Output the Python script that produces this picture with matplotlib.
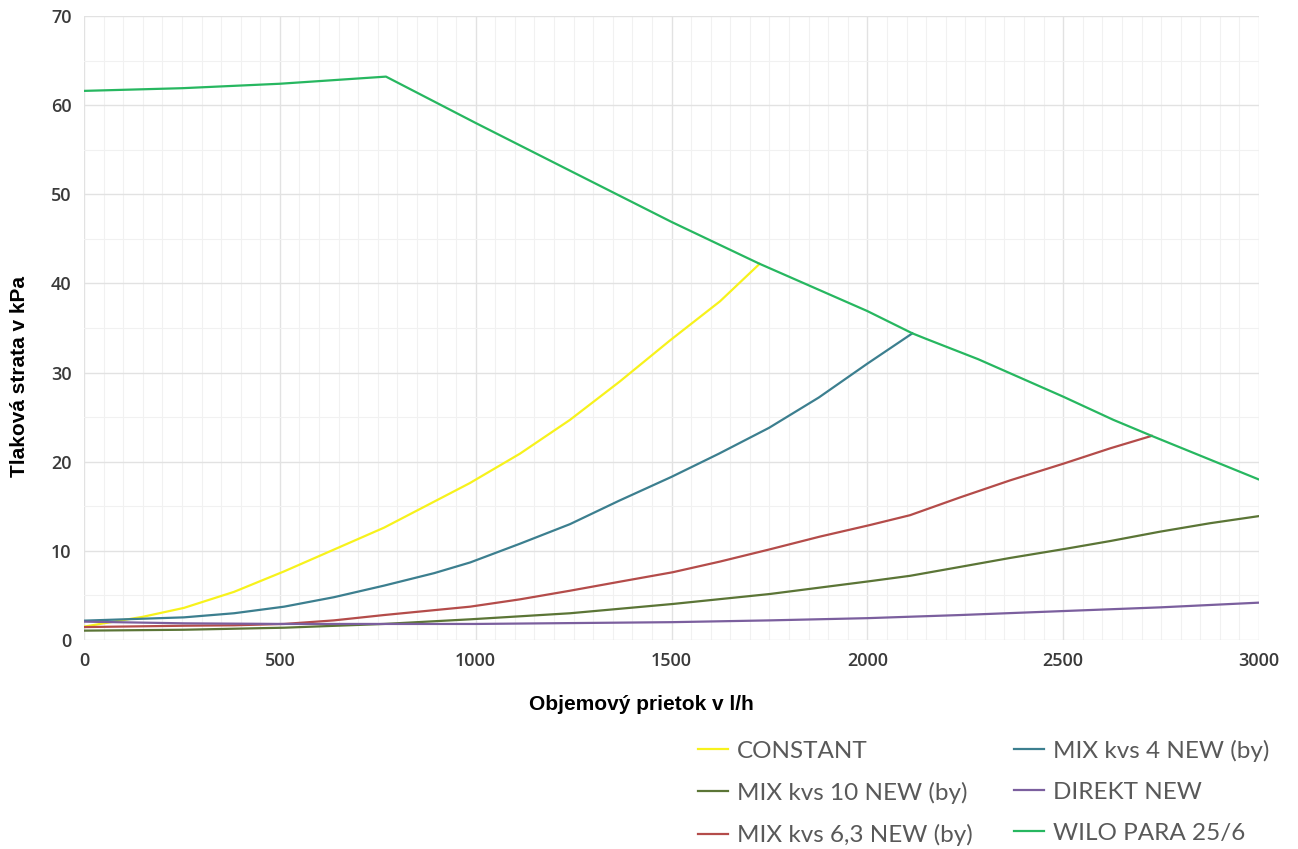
import numpy as np
import matplotlib.pyplot as plt
from matplotlib.ticker import MultipleLocator

# flow in l/h, pressure loss in kPa
const_x = [0, 150, 255, 383, 511, 766, 985, 1113, 1241, 1368, 1496, 1624, 1725]
const_y = [1.5, 2.6, 3.6, 5.4, 7.7, 12.6, 17.6, 20.9, 24.7, 29.0, 33.6, 38.0, 42.2]

mix4_x = [0, 255, 383, 511, 638, 766, 894, 986, 1113, 1241, 1365, 1500, 1621, 1749, 1876, 2000, 2115]
mix4_y = [2.17, 2.54, 3.0, 3.74, 4.8, 6.1, 7.5, 8.7, 10.8, 13.0, 15.6, 18.3, 20.9, 23.8, 27.2, 31.0, 34.4]

mix10_x = [0, 255, 511, 766, 986, 1241, 1503, 1751, 2007, 2109, 2237, 2364, 2502, 2620, 2747, 2875, 3000]
mix10_y = [1.05, 1.15, 1.38, 1.8, 2.32, 3.0, 4.04, 5.16, 6.6, 7.2, 8.2, 9.2, 10.2, 11.1, 12.15, 13.1, 13.9]

direkt_x = [0, 255, 511, 1000, 1250, 1500, 1750, 2000, 2237, 2502, 2747, 3000]
direkt_y = [2.06, 1.87, 1.8, 1.8, 1.9, 2.0, 2.2, 2.45, 2.8, 3.25, 3.66, 4.19]

mix63_x = [0, 255, 383, 511, 638, 766, 986, 1113, 1241, 1368, 1503, 1624, 1751, 1879, 2007,
           2109, 2237, 2364, 2502, 2620, 2726]
mix63_y = [1.45, 1.6, 1.65, 1.8, 2.2, 2.8, 3.74, 4.56, 5.53, 6.54, 7.6, 8.8, 10.17, 11.6, 12.9,
           14.0, 16.0, 17.9, 19.8, 21.5, 22.9]

wilo_x = [0, 250, 500, 771, 1000, 1243, 1500, 1725, 2000, 2115, 2149, 2283, 2500, 2628, 2726, 3000]
wilo_y = [61.6, 61.9, 62.4, 63.2, 58.0, 52.6, 46.9, 42.2, 36.9, 34.4, 33.8, 31.5, 27.3, 24.7, 22.9, 18.0]

series = [
    ("CONSTANT", const_x, const_y, "#f7f21c"),
    ("MIX kvs 10 NEW (by)", mix10_x, mix10_y, "#5b7536"),
    ("MIX kvs 6,3 NEW (by)", mix63_x, mix63_y, "#b44c4a"),
    ("MIX kvs 4 NEW (by)", mix4_x, mix4_y, "#3c7f8f"),
    ("DIREKT NEW", direkt_x, direkt_y, "#7b5f9e"),
    ("WILO PARA 25/6", wilo_x, wilo_y, "#27b760"),
]

W, H = 1298, 849
fig = plt.figure(figsize=(W / 100, H / 100), dpi=100)
ax = fig.add_axes([84 / W, 1 - 640 / H, (1259 - 84) / W, (640 - 16) / H])

handles = []
for name, xs, ys, col in series:
    ln, = ax.plot(xs, ys, color=col, lw=1.6, label=name, solid_joinstyle="round")
    handles.append(ln)

ax.set_xlim(0, 3000)
ax.set_ylim(0, 70)
ax.xaxis.set_major_locator(MultipleLocator(500))
ax.xaxis.set_minor_locator(MultipleLocator(50))
ax.yaxis.set_major_locator(MultipleLocator(10))
ax.yaxis.set_minor_locator(MultipleLocator(5))
ax.grid(which="major", color="#e2e2e2", lw=1.0)
ax.grid(which="minor", color="#f1f1f1", lw=0.8)
ax.set_axisbelow(True)
for s in ax.spines.values():
    s.set_visible(False)
ax.tick_params(which="both", length=0)
ax.tick_params(axis="x", pad=9)
ax.tick_params(axis="y", pad=9)
for lab in ax.get_xticklabels() + ax.get_yticklabels():
    lab.set_fontfamily("Open Sans")
    lab.set_fontweight("semibold")
    lab.set_fontsize(13)
    lab.set_color("#3a3a3a")

# axis titles sit where the reference puts them, not centred on the axes
fig.text(641 / W, 1 - 704 / H, "Objemový prietok v l/h", family="Liberation Sans",
         fontweight="bold", fontsize=15, ha="center", va="center")
fig.text(20 / W, 1 - 376 / H, "Tlaková strata v kPa", family="Liberation Sans",
         fontweight="bold", fontsize=15, ha="center", va="center", rotation=90)

fig.legend(handles=handles, loc="upper left", bbox_to_anchor=(676 / W, 1 - 718 / H),
           ncol=2, frameon=False, handlelength=1.25, handletextpad=0.36,
           columnspacing=1.7, labelspacing=0.82,
           prop={"family": "Lato", "size": 17.5}, labelcolor="#595959")

fig.savefig("out.png", dpi=100)
